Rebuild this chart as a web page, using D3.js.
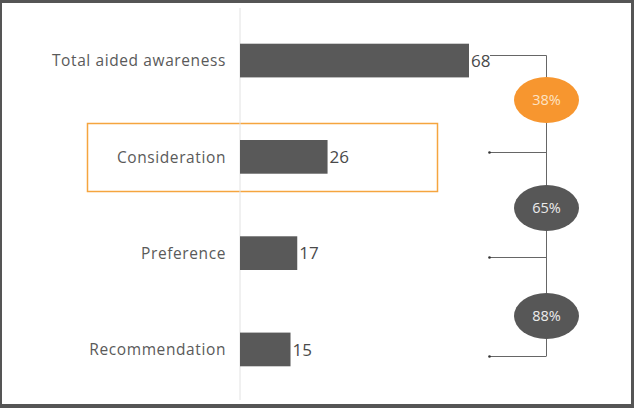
<!DOCTYPE html>
<html>
<head>
<meta charset="utf-8">
<script src="https://cdn.jsdelivr.net/npm/d3@7"></script>
<style>
  html, body { margin: 0; padding: 0; background: #fff; }
  svg { display: block; }
</style>
</head>
<body>
<script>
const categories = ["Total aided awareness", "Consideration", "Preference", "Recommendation"];
const values = [68, 26, 17, 15];
const conversionLabels = ["38%", "65%", "88%"];
const highlighted = "Consideration";

const W = 634, H = 408;
const svg = d3.select("body").append("svg").attr("width", W).attr("height", H);
const FONT = "'Open Sans', 'Noto Sans', sans-serif";

// frame
svg.append("rect").attr("x", 0).attr("y", 0).attr("width", W).attr("height", H).attr("fill", "#555");
svg.append("rect").attr("x", 2).attr("y", 3).attr("width", 629).attr("height", 401).attr("fill", "#fff");

const x0 = 240;
const x = d3.scaleLinear().domain([0, 68]).range([x0, 469]);
const y = d3.scaleBand().domain(categories).range([10, 400]).paddingInner(0.65).paddingOuter(0.35);
// conversion ellipses centres
const yMid = d3.scaleLinear().domain([0, conversionLabels.length - 1]).range([100, 316]);

// highlight box
const hb = y(highlighted);
svg.append("rect")
  .attr("x", 87.5).attr("y", hb - 16.5)
  .attr("width", 350).attr("height", 68)
  .attr("fill", "none").attr("stroke", "#f5a53f").attr("stroke-width", 1.5);

// axis line
svg.append("line").attr("x1", x0).attr("x2", x0).attr("y1", 8).attr("y2", 400)
  .attr("stroke", "#e2e2e2").attr("stroke-width", 1);

// bars
svg.selectAll(".bar").data(values).enter().append("rect")
  .attr("x", x(0)).attr("y", (d, i) => y(categories[i]))
  .attr("width", d => x(d) - x(0)).attr("height", y.bandwidth())
  .attr("fill", "#595959");

// category labels
svg.selectAll(".cat").data(categories).enter().append("text")
  .attr("x", 226).attr("y", d => y(d) + y.bandwidth() / 2 + 0.5)
  .attr("dy", "0.35em").attr("text-anchor", "end")
  .attr("font-family", FONT).attr("font-size", 15.5).attr("fill", "#5a5a5a")
  .attr("letter-spacing", 0.6)
  .text(d => d);

// value labels
svg.selectAll(".val").data(values).enter().append("text")
  .attr("x", d => x(d) + 2).attr("y", (d, i) => y(categories[i]) + y.bandwidth() / 2)
  .attr("dy", "0.36em")
  .attr("font-family", FONT).attr("font-size", 17).attr("fill", "#4a4a4a")
  .text(d => d);

// connector
const cx = 546.5;
const g = svg.append("g").attr("stroke", "#666").attr("stroke-width", 1).attr("fill", "none");
g.append("line").attr("x1", 490).attr("x2", cx).attr("y1", 55.5).attr("y2", 55.5);
g.append("line").attr("x1", cx).attr("x2", cx).attr("y1", 55.5).attr("y2", 356);
const tickYs = [152, 257, 356];
tickYs.forEach(ty => {
  g.append("line").attr("x1", 489).attr("x2", cx).attr("y1", ty + 0.5).attr("y2", ty + 0.5);
  svg.append("circle").attr("cx", 489.5).attr("cy", ty + 0.5).attr("r", 1.3).attr("fill", "#333");
});

// conversion ellipses
svg.selectAll(".conv").data(conversionLabels).enter().append("ellipse")
  .attr("cx", cx).attr("cy", (d, i) => yMid(i)).attr("rx", 32.5).attr("ry", 23)
  .attr("fill", (d, i) => i === 0 ? "#f7962f" : "#575757");
svg.selectAll(".convt").data(conversionLabels).enter().append("text")
  .attr("x", cx).attr("y", (d, i) => yMid(i)).attr("dy", "0.35em")
  .attr("text-anchor", "middle")
  .attr("font-family", FONT).attr("font-size", 14.5)
  .attr("fill", (d, i) => i === 0 ? "#fde3c4" : "#ececec")
  .text(d => d);
</script>
</body>
</html>
